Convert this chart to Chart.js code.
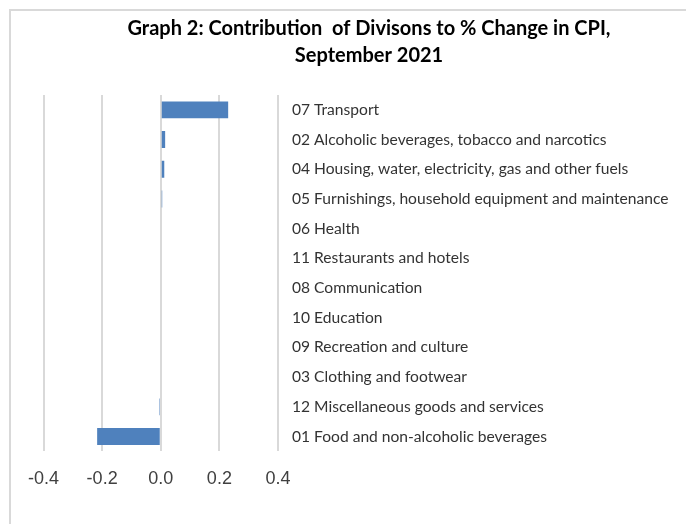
<!DOCTYPE html>
<html>
<head>
<meta charset="utf-8">
<script src="https://cdn.jsdelivr.net/npm/chart.js@4.4.1/dist/chart.umd.min.js"></script>
<style>
  html, body { margin: 0; padding: 0; background: #fff; overflow: hidden; }
  #frame {
    position: absolute; left: 9px; top: 9px;
    width: 700px; height: 520px;
    border-left: 2px solid #d9d9d9; border-top: 2px solid #d9d9d9;
  }
  #wrap { position: absolute; left: 0; top: 0; width: 685px; height: 513px; }
</style>
</head>
<body>
<div id="frame">
  <div id="wrap"><canvas id="cpi"></canvas></div>
</div>
<script>
const divisions = [
  "07 Transport",
  "02 Alcoholic beverages, tobacco and narcotics",
  "04 Housing, water, electricity, gas and other fuels",
  "05 Furnishings, household equipment and maintenance",
  "06 Health",
  "11 Restaurants and hotels",
  "08 Communication",
  "10 Education",
  "09 Recreation and culture",
  "03 Clothing and footwear",
  "12 Miscellaneous goods and services",
  "01 Food and non-alcoholic beverages"
];
const contribution = [0.23, 0.015, 0.012, 0.005, 0, 0, 0, 0, 0, 0, -0.005, -0.217];
const xTickLabels = ["-0.4", "-0.2", "0.0", "0.2", "0.4"];
const titleLines = ["Graph 2: Contribution  of Divisons to % Change in CPI,", "September 2021"];

const ctx = document.getElementById("cpi").getContext("2d");
const cpiChart = new Chart(ctx, {
  type: "bar",
  data: {
    labels: divisions,
    datasets: [{
      label: "Contribution",
      data: contribution,
      backgroundColor: "#4f81bd",
      borderWidth: 0,
      barPercentage: 0.57,
      categoryPercentage: 1
    }]
  },
  options: {
    indexAxis: "y",
    responsive: true,
    maintainAspectRatio: false,
    animation: false,
    layout: { padding: { left: 31, right: 0, top: 0, bottom: 17 } },
    scales: {
      x: {
        min: -0.4,
        max: 0.4,
        ticks: {
          stepSize: 0.2,
          padding: 17,
          color: "#404040",
          font: { family: "'Liberation Sans', Arial, sans-serif", size: 18 },
          callback: (v, i) => xTickLabels[i]
        },
        grid: { color: "#d9d9d9", lineWidth: 2, drawTicks: false },
        border: { display: false }
      },
      y: {
        position: "right",
        grid: { display: false },
        border: { display: false },
        ticks: {
          padding: 6,
          color: "#333",
          font: { family: "Lato, sans-serif", size: 15.6 }
        },
        afterFit: (scale) => { scale.width = 418; }
      }
    },
    plugins: {
      legend: { display: false },
      tooltip: { enabled: false },
      title: {
        display: true,
        text: titleLines,
        color: "#000",
        font: { family: "Lato, sans-serif", size: 20, weight: "bold", lineHeight: 1.35 },
        padding: { top: 4, bottom: 26 }
      }
    }
  }
});
</script>
</body>
</html>
